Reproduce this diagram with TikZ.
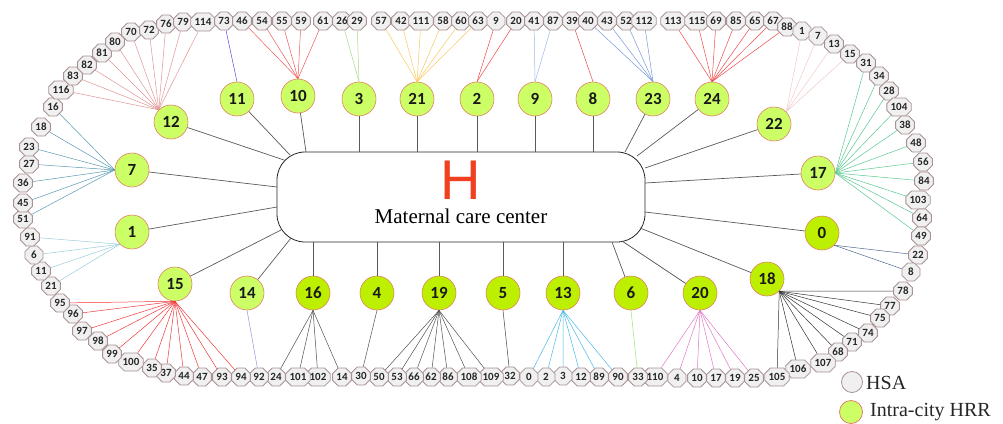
\documentclass[tikz,border=0pt]{standalone}
\usepackage{fontspec}
\setmainfont{Liberation Serif}
\newfontfamily\numfont{Carlito}
\newfontfamily\hfont{Liberation Sans}
\usetikzlibrary{shapes.misc}
\definecolor{hsafill}{HTML}{F0F0F0}
\definecolor{hsaedge}{HTML}{A89292}
\definecolor{hrrA}{HTML}{CCFF66}
\definecolor{hrrB}{HTML}{BDF000}
\definecolor{hrredge}{HTML}{E08060}
\definecolor{hred}{HTML}{F04020}
\definecolor{c12}{HTML}{E09494}
\definecolor{c11}{HTML}{5050E0}
\definecolor{c10}{HTML}{F05858}
\definecolor{c3}{HTML}{A8D888}
\definecolor{c21}{HTML}{F8C860}
\definecolor{c2}{HTML}{F04848}
\definecolor{c9}{HTML}{98B8E8}
\definecolor{c8}{HTML}{E84848}
\definecolor{c23}{HTML}{7898D8}
\definecolor{c24}{HTML}{F04848}
\definecolor{c22}{HTML}{F0C8C8}
\definecolor{c17}{HTML}{58C890}
\definecolor{c0}{HTML}{506890}
\definecolor{c18}{HTML}{303030}
\definecolor{c20}{HTML}{E078C8}
\definecolor{c6}{HTML}{90E870}
\definecolor{c13}{HTML}{48B8E8}
\definecolor{c5}{HTML}{404040}
\definecolor{c19}{HTML}{505050}
\definecolor{c4}{HTML}{505050}
\definecolor{c16}{HTML}{505050}
\definecolor{c14}{HTML}{A888D8}
\definecolor{c15}{HTML}{F03838}
\definecolor{c1}{HTML}{98CCDC}
\definecolor{c7}{HTML}{5898B0}
\tikzset{
  hsa/.style={chamfered rectangle, chamfered rectangle xsep=2.8pt, chamfered rectangle ysep=2.8pt,
    draw=hsaedge, fill=hsafill, line width=0.8pt, inner sep=1pt, minimum width=18pt, minimum height=18pt,
    font=\numfont\bfseries\fontsize{11}{11}\selectfont, text=black!85},
  hrr/.style={circle, draw=hrredge, line width=0.6pt, minimum size=34pt, inner sep=0pt,
    font=\numfont\bfseries\fontsize{17}{17}\selectfont, text=black!90},
  fan/.style={line width=0.5pt},
  spoke/.style={draw=black!65, line width=0.7pt},
  legtext/.style={anchor=west, font=\fontsize{20}{20}\selectfont, text=black!85, inner sep=0pt}
}
\begin{document}
\begin{tikzpicture}[x=1pt,y=-1pt]
\useasboundingbox (0,0) rectangle (1003,423);
% center box
\node[draw=black!85, line width=0.8pt, rounded corners=28pt, minimum width=368pt, minimum height=90pt] (box) at (461,197) {};
\node[font=\hfont\fontsize{56}{56}\selectfont, text=hred, inner sep=0pt] (H) at (461,180) {H};
\node[font=\fontsize{21}{21}\selectfont, inner sep=0pt] (mcc) at (461,216) {Maternal care center};
% HSA nodes
\foreach \n/\x/\y in {18/41/127, 16/53/107, 116/61/90, 83/73/76, 82/87/65, 81/102/53, 80/115/42,
  70/131/32, 72/149/30, 76/166/24, 79/183/22, 114/203/22, 73/224/21, 46/242/21, 54/262/21, 55/282/21,
  59/301/21, 61/323/21, 26/342/21, 29/357/21, 57/381/21, 42/401/21, 111/421/21, 58/443/21, 60/461/21,
  63/478/21, 9/496/21, 20/516/21, 41/534/21, 87/553/21, 39/572/21, 40/588/21, 43/607/21, 52/626/21,
  112/644/21, 113/673/21, 115/697/21, 69/716/21, 85/736/21, 65/755/21, 67/773/21, 88/787/27, 1/802/31,
  7/818/36, 13/834/44, 15/850/54, 31/866/63, 34/879/76, 28/889/91, 104/899/107, 38/905/125, 48/916/143,
  56/923/162, 84/924/181, 103/918/200, 64/922/218, 49/921/236, 22/918/255, 8/911/272, 78/903/291,
  77/890/306, 75/880/318, 74/868/333, 71/852/342, 68/838/352, 107/823/363, 106/798/369, 105/777/377,
  25/754/378, 19/735/378, 17/716/378, 10/697/378, 4/677/378, 110/655/377, 33/638/377, 90/618/377,
  89/599/377, 12/581/377, 3/563/376, 2/546/377, 0/529/377, 32/510/376, 109/491/377, 108/469/377,
  86/448/377, 62/431/377, 66/414/377, 53/397/377, 50/379/377, 30/361/376, 14/342/377, 102/318/377,
  101/298/377, 24/276/377, 92/259/377, 94/241/377, 93/222/377, 47/202/377, 44/184/376, 37/166/373,
  35/152/368, 100/131/362, 99/112/354, 98/98/341, 97/82/331, 96/73/314, 95/60/303, 21/51/286,
  11/41/271, 6/34/255, 91/30/237, 51/23/219, 45/23/203, 36/23/183, 27/29/164, 23/29/147}
  \node[hsa] (s\n) at (\x,\y) {\n};
% HRR nodes
\foreach \n/\x/\y/\f in {12/171/122/hrrA, 11/237/99/hrrA, 10/298/96/hrrA, 3/359/99/hrrA, 21/417/99/hrrA,
  2/477/99/hrrA, 9/535/99/hrrA, 8/593/99/hrrA, 23/653/99/hrrA, 24/712/99/hrrA, 22/774/124/hrrA,
  17/818/173/hrrA, 0/822/233/hrrB, 18/767/279/hrrB, 20/700/293/hrrB, 6/631/293/hrrB, 13/563/293/hrrB,
  5/503/293/hrrB, 19/439/293/hrrB, 4/377/293/hrrB, 16/313/293/hrrB, 14/247/293/hrrA, 15/175/284/hrrA,
  1/132/232/hrrA, 7/132/170/hrrA}
  \node[hrr, fill=\f] (r\n) at (\x,\y) {\n};
% spokes to the center box
\foreach \r in {3,21,2,9,8} \draw[spoke] (r\r) -- (r\r |- box.north);
\foreach \r in {13,5,19,4,16} \draw[spoke] (r\r) -- (r\r |- box.south);
\foreach \r/\x/\y in {12/284/160, 11/290/155, 10/306/152, 23/625/152, 24/637/156, 22/645/168,
  17/645/183, 0/645/212, 18/640/228, 20/622/241, 6/612/242, 14/291/238, 15/281/230, 1/277/207, 7/277/187}
  {\coordinate (e\r) at (\x,\y); \draw[spoke] (r\r) -- (e\r);}
% HSA to HRR fans
\foreach \r/\a/\l in {12/north west/{114,79,76,72,70,80,81,82,83,116}, 11/north/{73},
  10/north/{46,54,55,59,61}, 3/north/{26,29}, 21/north/{57,42,111,58,60,63}, 2/north/{9,20},
  9/north/{41,87}, 8/north/{39}, 23/north/{40,43,52,112}, 24/north/{113,115,69,85,65,67,88},
  22/north east/{1,7,13,15}, 17/east/{31,34,28,104,38,48,56,84,103,64,49}, 0/south east/{22,8},
  18/south east/{78,77,75,74,71,68,107,106,105}, 20/south/{110,4,10,17,19,25}, 6/south/{33},
  13/south/{0,2,3,12,89,90}, 5/south/{32}, 19/south/{50,53,66,62,86,108,109}, 4/south/{30},
  16/south/{24,101,102,14}, 14/south/{92}, 15/south/{95,96,97,98,99,100,35,37,44,47,93,94},
  1/south west/{91,6,11,21}, 7/west/{16,18,23,27,36,45,51}}
  {\foreach \s in \l {\draw[fan, draw=c\r] (s\s) -- (r\r.\a);}}
% legend
\node[circle, draw=hsaedge, fill=hsafill, line width=0.8pt, minimum size=21pt, inner sep=0pt] (lg1) at (852,382) {};
\node[legtext] (lt1) at (866,383) {HSA};
\node[circle, draw=hrredge, fill=hrrA, line width=0.8pt, minimum size=23pt, inner sep=0pt] (lg2) at (851,412) {};
\node[legtext] (lt2) at (870,412) {Intra-city HRR};
\end{tikzpicture}
\end{document}
